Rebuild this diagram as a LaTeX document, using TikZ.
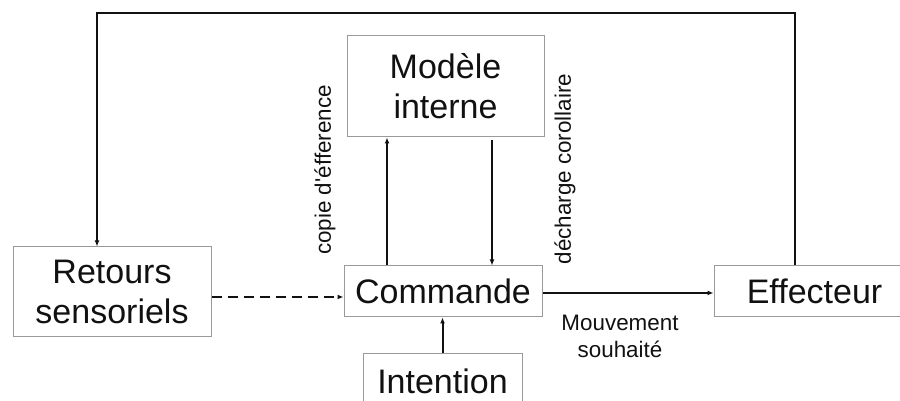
\documentclass[tikz,border=0pt]{standalone}
\usepackage{fontspec}
\setmainfont{Liberation Sans}[Ligatures=TeXOff]
\usetikzlibrary{arrows.meta}
\definecolor{boxgray}{HTML}{9A9A9A}
\definecolor{ink}{HTML}{111111}
\tikzset{
  box/.style={draw=boxgray, line width=1pt, inner sep=0pt, align=center,
    text=ink, font=\fontsize{34}{40}\selectfont},
  boxtext/.style={inner sep=0pt, align=center, text=ink, font=\fontsize{34}{40}\selectfont},
  arr/.style={draw=ink, line width=2pt, -{Latex[length=6pt,width=5pt]}},
  lab/.style={text=ink, inner sep=0pt, align=center, font=\fontsize{22.4}{27}\selectfont}
}
\begin{document}
\begin{tikzpicture}[x=1pt,y=1pt]
\useasboundingbox (0,0) rectangle (900,401);
\node[box, minimum width=198pt, minimum height=90pt] (ret) at (112,109) {Retours\\sensoriels};
\node[box, minimum width=197pt, minimum height=101pt] (mod) at (445.5,314.5) {Modèle\\interne};
\node[box, minimum width=198pt, minimum height=51pt] (cmd) at (443,109.5) {Commande};
\node[box, minimum width=159pt, minimum height=66pt] (int) at (442.5,14) {};
\node[boxtext] (inttext) at (442.5,20) {Intention};
\node[box, minimum width=201pt, minimum height=51pt] (eff) at (814.5,109.5) {Effecteur};
\node[lab, rotate=90] (copie) at (325,231) {copie d'éfference};
\node[lab, rotate=90] (decharge) at (565,232) {décharge corollaire};
\node[lab] (mouv) at (620,65) {Mouvement\\souhaité};
\coordinate (tl) at (97,388);
% feedback loop
\draw[arr] ([xshift=-19.5pt]eff.north) |- (tl) -- (tl |- ret.north);
% dashed
\draw[arr, dash pattern=on 10pt off 6pt] ([yshift=-5pt]ret.east) -- ([yshift=-5pt]ret.east -| cmd.west);
% commande -> effecteur
\draw[arr] ([yshift=-1.5pt]cmd.east) -- ([yshift=-1.5pt]cmd.east -| eff.west);
% copie d'efference
\draw[arr] ([xshift=-56pt]cmd.north) -- ([xshift=-56pt]cmd.north |- mod.south);
% decharge corollaire
\draw[arr] ([xshift=46.5pt,yshift=-3pt]mod.south) -- ([xshift=46.5pt]mod.south |- cmd.north);
% intention
\draw[arr] (int.north) -- (int.north |- cmd.south);
\end{tikzpicture}
\end{document}
